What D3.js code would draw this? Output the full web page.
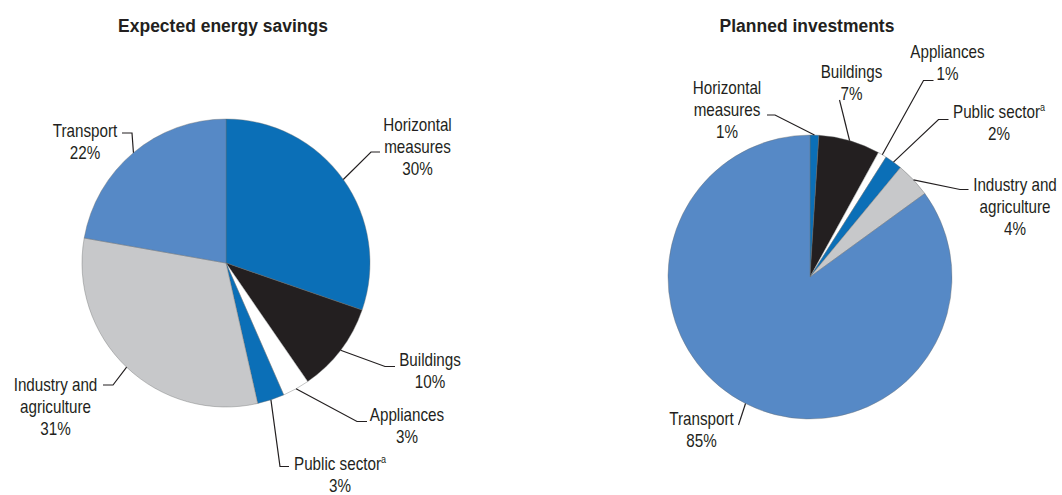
<!DOCTYPE html>
<html>
<head>
<meta charset="utf-8">
<script src="https://cdn.jsdelivr.net/npm/d3@7"></script>
<style>
  html, body { margin: 0; padding: 0; background: #fff; }
  svg { display: block; }
  .lbl { font-family: "Liberation Sans", Arial, sans-serif; font-size: 18.5px; fill: #231f20; }
  .ttl { font-family: "Liberation Sans", Arial, sans-serif; font-size: 19px; font-weight: bold; fill: #231f20; }
</style>
</head>
<body>
<svg id="chart" width="1062" height="495"></svg>
<script>
// Sectors, in drawing order (clockwise from 12 o'clock)
const categories = ["Horizontal measures", "Buildings", "Appliances", "Public sector", "Industry and agriculture", "Transport"];
// Label lines for each sector name
const nameLines = [["Horizontal", "measures"], ["Buildings"], ["Appliances"], ["Public sector"], ["Industry and", "agriculture"], ["Transport"]];
// Sectors carrying footnote "a"
const footnoted = ["Public sector"];
// Shares, per cent
const savingsShares = [30, 10, 3, 3, 31, 22];
const investmentShares = [1, 7, 1, 2, 4, 85];
const panelTitles = ["Expected energy savings", "Planned investments"];

const sectorColors = ["#0b6fb7", "#231f20", "#ffffff", "#0b6fb7", "#c7c8ca", "#5689c6"];

// Condensed type: horizontal squeeze applied to every text element
const labelSqueeze = 0.822;
const titleSqueeze = 0.92;

// Panel geometry and label placement
const panels = [
  {
    title: panelTitles[0], values: savingsShares,
    cx: 226, cy: 263, r: 144, titleX: 223, titleY: 25,
    labels: [
      { elbow: [371, 152], end: [380, 152], tx: 417.5, ty: 125 },
      { elbow: [385, 366.5], end: [395, 366.5], tx: 430, ty: 360 },
      { elbow: [357, 421.5], end: [367, 421.5], tx: 407, ty: 415 },
      { elbow: [280, 466.5], end: [289, 466.5], tx: 340, ty: 463.5 },
      { elbow: [113, 385], end: [103, 385], tx: 55.5, ty: 385 },
      { elbow: [132, 133], end: [122, 133], tx: 85, ty: 130.5 }
    ]
  },
  {
    title: panelTitles[1], values: investmentShares,
    cx: 810, cy: 277, r: 142, titleX: 807, titleY: 25,
    labels: [
      { elbow: [775, 115], end: [767, 115], tx: 727, ty: 87.5 },
      { elbow: [839.5, 100], end: [839.5, 100], tx: 851.5, ty: 71.5 },
      { elbow: [923.5, 80.5], end: [933.5, 80.5], tx: 947.5, ty: 51.5 },
      { elbow: [938.5, 119.5], end: [948.5, 119.5], tx: 999, ty: 111.5 },
      { elbow: [960, 189.5], end: [968.5, 189.5], tx: 1015, ty: 185 },
      { elbow: [738.5, 425], end: [738.5, 425], tx: 701.5, ty: 418.5 }
    ]
  }
];

const lineGap = 21.8;
const svg = d3.select("#chart");
const color = d3.scaleOrdinal().domain(categories).range(sectorColors);

panels.forEach(p => {
  const data = categories.map((c, i) => ({ name: c, lines: nameLines[i], value: p.values[i], lab: p.labels[i] }));
  const pie = d3.pie().value(d => d.value).sort(null);
  const arcs = pie(data);
  const arc = d3.arc().innerRadius(0).outerRadius(p.r);

  const g = svg.append("g").attr("transform", `translate(${p.cx},${p.cy})`);
  g.selectAll("path.slice")
    .data(arcs)
    .join("path")
    .attr("class", "slice")
    .attr("d", arc)
    .attr("fill", d => color(d.data.name))
    .attr("stroke", "#6d6e70")
    .attr("stroke-width", 0.4);

  svg.append("text")
    .attr("class", "ttl")
    .attr("transform", `translate(${p.titleX},${p.titleY}) scale(${titleSqueeze},1)`)
    .attr("dy", "0.35em")
    .attr("text-anchor", "middle")
    .text(p.title);

  arcs.forEach(a => {
    const lab = a.data.lab;
    const mid = (a.startAngle + a.endAngle) / 2;
    const sx = p.cx + p.r * Math.sin(mid);
    const sy = p.cy - p.r * Math.cos(mid);
    svg.append("path")
      .attr("d", d3.line()([[sx, sy], lab.elbow, lab.end]))
      .attr("fill", "none")
      .attr("stroke", "#231f20")
      .attr("stroke-width", 1.2);

    const lines = a.data.lines.concat([`${a.data.value}%`]);
    lines.forEach((ln, k) => {
      const t = svg.append("text")
        .attr("class", "lbl")
        .attr("transform", `translate(${lab.tx},${lab.ty + k * lineGap}) scale(${labelSqueeze},1)`)
        .attr("dy", "0.35em")
        .attr("text-anchor", "middle");
      t.append("tspan").text(ln);
      if (k === 0 && footnoted.includes(a.data.name)) {
        t.append("tspan")
          .attr("font-size", "11px")
          .attr("dy", "-0.65em")
          .text("a");
      }
    });
  });
});
</script>
</body>
</html>
